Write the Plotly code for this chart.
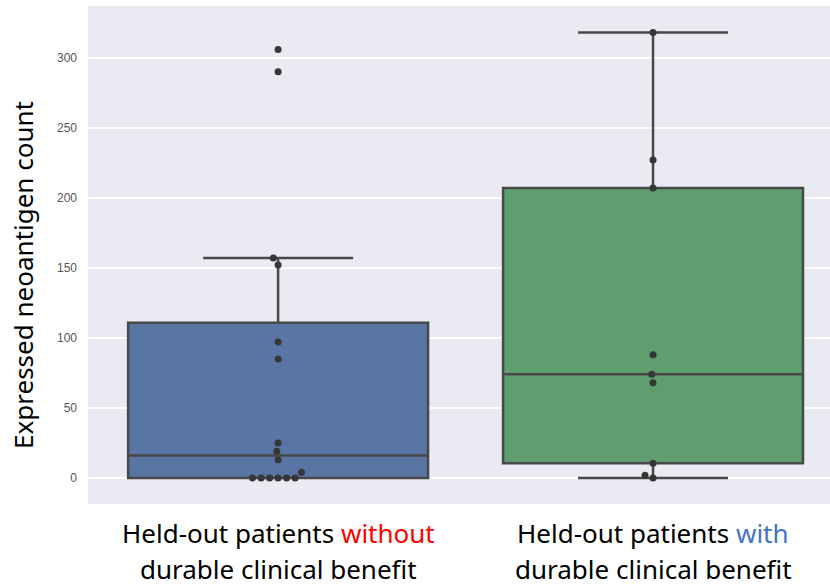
import numpy as np
import plotly.graph_objects as go

# Expressed neoantigen counts per held-out patient
no_benefit = [306, 290, 157, 152, 97, 85, 25, 19, 13, 4, 0, 0, 0, 0, 0, 0]
with_benefit = [318, 227, 207, 88, 74, 68, 10.5, 2, 0]

groups = [no_benefit, with_benefit]
fills = ["#5975A4", "#5F9E6E"]
line_line1 = ["Held-out patients <span style='color:#FF0000'>without</span>",
              "Held-out patients <span style='color:#4472C4'>with</span>"]
label_line2 = ["durable clinical benefit", "durable clinical benefit"]

EDGE = "#484848"
PT = "#363636"

Y_RANGE = [-18.6, 337]
X_RANGE = [-0.507, 1.472]
PLOT_W = 830 - 88
PLOT_H = 504 - 6
px_x = PLOT_W / (X_RANGE[1] - X_RANGE[0])
px_y = PLOT_H / (Y_RANGE[1] - Y_RANGE[0])


def box_stats(vals):
    v = np.sort(np.asarray(vals, dtype=float))
    q1, med, q3 = np.percentile(v, [25, 50, 75])
    iqr = q3 - q1
    lo = v[v >= q1 - 1.5 * iqr].min()
    hi = v[v <= q3 + 1.5 * iqr].max()
    return q1, med, q3, lo, hi


def swarm(vals, diam=8.5):
    """Simple beeswarm: place each point at the nearest non-overlapping offset."""
    order = np.argsort(vals, kind="stable")
    placed = []  # (x_px, y_px)
    offsets = np.zeros(len(vals))
    for i in order:
        y = vals[i] * px_y
        cands = [0.0]
        for (px, py) in placed:
            dy = abs(py - y)
            if dy < diam:
                dx = np.sqrt(diam ** 2 - dy ** 2)
                cands += [px - dx, px + dx]
        cands = sorted(set(cands), key=lambda c: (abs(c), c > 0))
        for c in cands:
            if all((c - px) ** 2 + (y - py) ** 2 >= diam ** 2 - 1e-6 for px, py in placed):
                offsets[i] = c
                placed.append((c, y))
                break
    return offsets / px_x


fig = go.Figure()

for k, vals in enumerate(groups):
    q1, med, q3, lo, hi = box_stats(vals)
    fig.add_trace(go.Box(
        x=[k], q1=[q1], median=[med], q3=[q3], lowerfence=[lo], upperfence=[hi],
        width=0.8, whiskerwidth=0.5, boxpoints=False,
        fillcolor=fills[k], line=dict(color=EDGE, width=2.5),
        showlegend=False, hoverinfo="skip",
    ))

for k, vals in enumerate(groups):
    v = np.asarray(vals, dtype=float)
    off = swarm(v)
    fig.add_trace(go.Scatter(
        x=k + off, y=v, mode="markers",
        marker=dict(size=7, color=PT),
        showlegend=False, hoverinfo="skip",
    ))

LABEL_FONT = dict(size=26, color="#000000", family="Noto Sans")
annotations = []
for k in range(2):
    annotations.append(dict(x=k, y=0, xref="x", yref="paper", text=line_line1[k],
                            showarrow=False, yanchor="middle", yshift=-29,
                            font=LABEL_FONT))
    annotations.append(dict(x=k, y=0, xref="x", yref="paper", text=label_line2[k],
                            showarrow=False, yanchor="middle", yshift=-65,
                            font=LABEL_FONT))
annotations.append(dict(x=0, y=0.46, xref="paper", yref="paper",
                        text="Expressed neoantigen count", textangle=-90,
                        showarrow=False, xanchor="center", yanchor="middle", xshift=-65,
                        font=dict(size=26, color="#000000", family="Noto Sans")))

fig.update_layout(
    width=830, height=587,
    margin=dict(l=88, r=0, t=6, b=83),
    paper_bgcolor="#FFFFFF", plot_bgcolor="#EAEAF2",
    annotations=annotations,
    xaxis=dict(range=X_RANGE, showgrid=False, zeroline=False, showticklabels=False,
               ticks=""),
    yaxis=dict(range=Y_RANGE, tickvals=[0, 50, 100, 150, 200, 250, 300],
               showgrid=True, gridcolor="#FFFFFF", gridwidth=1.5, zeroline=False,
               ticks="", ticklabelstandoff=10,
               tickfont=dict(size=12, color="#555555", family="Liberation Sans")),
)

fig.write_html("out.html")
